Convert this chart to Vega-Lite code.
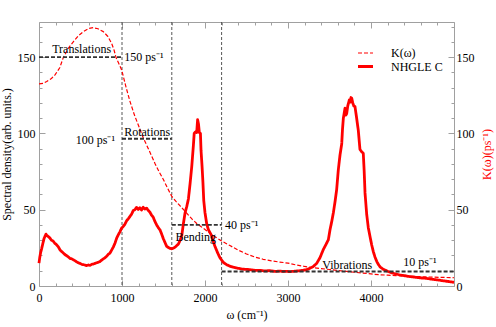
{
  "$schema": "https://vega.github.io/schema/vega-lite/v6.json",
  "width": 415,
  "height": 264,
  "autosize": "none",
  "padding": {"left": 39, "top": 22, "right": 42, "bottom": 41},
  "config": {
    "font": "Liberation Serif, Times New Roman, serif",
    "view": {"stroke": null},
    "axis": {
      "labelFont": "Liberation Serif, Times New Roman, serif", "titleFont": "Liberation Serif, Times New Roman, serif",
      "labelFontSize": 12, "titleFontSize": 12, "titleFontWeight": "normal",
      "labelColor": "#000", "titleColor": "#000",
      "domainColor": "#a0a0a0", "tickColor": "#a0a0a0", "domainWidth": 1, "tickWidth": 1,
      "grid": false, "labelFlush": false, "labelOverlap": false, "labelBound": false
    },
    "legend": {
      "labelFont": "Liberation Serif, Times New Roman, serif", "labelFontSize": 12, "labelColor": "#000"
    },
    "text": {"font": "Liberation Serif, Times New Roman, serif"}
  },
  "datasets": {
    "curves": [
      {"s":"NHGLE C","w":0,"v":15},{"s":"NHGLE C","w":10,"v":19},{"s":"NHGLE C","w":20,"v":22},{"s":"NHGLE C","w":32,"v":24.5},{"s":"NHGLE C","w":45,"v":27.5},{"s":"NHGLE C","w":60,"v":31},{"s":"NHGLE C","w":72,"v":32.5},{"s":"NHGLE C","w":84,"v":34},{"s":"NHGLE C","w":95,"v":33},{"s":"NHGLE C","w":110,"v":32.5},{"s":"NHGLE C","w":132,"v":31.4},{"s":"NHGLE C","w":150,"v":30},{"s":"NHGLE C","w":170,"v":29.5},{"s":"NHGLE C","w":190,"v":28},{"s":"NHGLE C","w":213,"v":27},{"s":"NHGLE C","w":235,"v":25.5},{"s":"NHGLE C","w":255,"v":23.5},{"s":"NHGLE C","w":275,"v":22.5},{"s":"NHGLE C","w":293,"v":21.6},{"s":"NHGLE C","w":315,"v":20.5},{"s":"NHGLE C","w":335,"v":19.8},{"s":"NHGLE C","w":355,"v":19},{"s":"NHGLE C","w":375,"v":18},{"s":"NHGLE C","w":395,"v":17.8},{"s":"NHGLE C","w":413,"v":17.2},{"s":"NHGLE C","w":435,"v":16.5},{"s":"NHGLE C","w":455,"v":15.8},{"s":"NHGLE C","w":475,"v":15.2},{"s":"NHGLE C","w":495,"v":14.8},{"s":"NHGLE C","w":515,"v":14.2},{"s":"NHGLE C","w":534,"v":14},{"s":"NHGLE C","w":555,"v":13.7},{"s":"NHGLE C","w":575,"v":13.4},{"s":"NHGLE C","w":595,"v":13.8},{"s":"NHGLE C","w":614,"v":13.5},{"s":"NHGLE C","w":635,"v":14.2},{"s":"NHGLE C","w":655,"v":14.4},{"s":"NHGLE C","w":675,"v":14.8},{"s":"NHGLE C","w":695,"v":15.2},{"s":"NHGLE C","w":715,"v":15.6},{"s":"NHGLE C","w":735,"v":16},{"s":"NHGLE C","w":755,"v":17},{"s":"NHGLE C","w":775,"v":17.8},{"s":"NHGLE C","w":795,"v":18.5},{"s":"NHGLE C","w":815,"v":19.5},{"s":"NHGLE C","w":835,"v":20.8},{"s":"NHGLE C","w":855,"v":21.6},{"s":"NHGLE C","w":875,"v":23.5},{"s":"NHGLE C","w":895,"v":25.5},{"s":"NHGLE C","w":915,"v":28},{"s":"NHGLE C","w":936,"v":31.4},{"s":"NHGLE C","w":955,"v":33.5},{"s":"NHGLE C","w":975,"v":35.5},{"s":"NHGLE C","w":996,"v":38},{"s":"NHGLE C","w":1015,"v":39},{"s":"NHGLE C","w":1035,"v":40.5},{"s":"NHGLE C","w":1056,"v":42.8},{"s":"NHGLE C","w":1075,"v":44},{"s":"NHGLE C","w":1096,"v":45.6},{"s":"NHGLE C","w":1115,"v":47},{"s":"NHGLE C","w":1136,"v":49.5},{"s":"NHGLE C","w":1155,"v":50},{"s":"NHGLE C","w":1175,"v":51.5},{"s":"NHGLE C","w":1195,"v":50.2},{"s":"NHGLE C","w":1215,"v":51.3},{"s":"NHGLE C","w":1235,"v":49.8},{"s":"NHGLE C","w":1255,"v":51.6},{"s":"NHGLE C","w":1275,"v":50.4},{"s":"NHGLE C","w":1297,"v":51},{"s":"NHGLE C","w":1315,"v":49.6},{"s":"NHGLE C","w":1335,"v":48.5},{"s":"NHGLE C","w":1355,"v":46.5},{"s":"NHGLE C","w":1377,"v":45},{"s":"NHGLE C","w":1395,"v":42.5},{"s":"NHGLE C","w":1418,"v":40},{"s":"NHGLE C","w":1440,"v":38},{"s":"NHGLE C","w":1458,"v":36.8},{"s":"NHGLE C","w":1478,"v":34},{"s":"NHGLE C","w":1498,"v":31},{"s":"NHGLE C","w":1518,"v":28.5},{"s":"NHGLE C","w":1538,"v":26},{"s":"NHGLE C","w":1560,"v":25.2},{"s":"NHGLE C","w":1580,"v":24.6},{"s":"NHGLE C","w":1600,"v":24.4},{"s":"NHGLE C","w":1620,"v":24.8},{"s":"NHGLE C","w":1640,"v":25.5},{"s":"NHGLE C","w":1660,"v":26.5},{"s":"NHGLE C","w":1680,"v":27.5},{"s":"NHGLE C","w":1700,"v":30},{"s":"NHGLE C","w":1720,"v":33},{"s":"NHGLE C","w":1740,"v":41},{"s":"NHGLE C","w":1760,"v":48},{"s":"NHGLE C","w":1780,"v":52},{"s":"NHGLE C","w":1800,"v":57},{"s":"NHGLE C","w":1820,"v":67},{"s":"NHGLE C","w":1840,"v":78},{"s":"NHGLE C","w":1860,"v":92},{"s":"NHGLE C","w":1870,"v":100},{"s":"NHGLE C","w":1885,"v":101},{"s":"NHGLE C","w":1900,"v":100.5},{"s":"NHGLE C","w":1911,"v":109},{"s":"NHGLE C","w":1922,"v":106},{"s":"NHGLE C","w":1932,"v":100.5},{"s":"NHGLE C","w":1945,"v":100},{"s":"NHGLE C","w":1952,"v":89},{"s":"NHGLE C","w":1965,"v":78},{"s":"NHGLE C","w":1975,"v":68},{"s":"NHGLE C","w":1985,"v":56},{"s":"NHGLE C","w":2000,"v":48},{"s":"NHGLE C","w":2020,"v":41},{"s":"NHGLE C","w":2040,"v":37},{"s":"NHGLE C","w":2060,"v":35},{"s":"NHGLE C","w":2080,"v":33},{"s":"NHGLE C","w":2100,"v":29},{"s":"NHGLE C","w":2120,"v":26},{"s":"NHGLE C","w":2150,"v":22},{"s":"NHGLE C","w":2180,"v":18.5},{"s":"NHGLE C","w":2220,"v":15.5},{"s":"NHGLE C","w":2260,"v":14},{"s":"NHGLE C","w":2300,"v":13},{"s":"NHGLE C","w":2340,"v":12.3},{"s":"NHGLE C","w":2380,"v":11.8},{"s":"NHGLE C","w":2420,"v":11.4},{"s":"NHGLE C","w":2460,"v":11},{"s":"NHGLE C","w":2500,"v":10.9},{"s":"NHGLE C","w":2540,"v":10.7},{"s":"NHGLE C","w":2580,"v":10.4},{"s":"NHGLE C","w":2620,"v":10.2},{"s":"NHGLE C","w":2660,"v":10.3},{"s":"NHGLE C","w":2700,"v":10},{"s":"NHGLE C","w":2740,"v":9.9},{"s":"NHGLE C","w":2780,"v":10.1},{"s":"NHGLE C","w":2820,"v":9.7},{"s":"NHGLE C","w":2860,"v":9.6},{"s":"NHGLE C","w":2900,"v":9.8},{"s":"NHGLE C","w":2940,"v":9.5},{"s":"NHGLE C","w":2980,"v":9.6},{"s":"NHGLE C","w":3024,"v":9.4},{"s":"NHGLE C","w":3060,"v":9.6},{"s":"NHGLE C","w":3100,"v":9.8},{"s":"NHGLE C","w":3140,"v":10},{"s":"NHGLE C","w":3180,"v":10.3},{"s":"NHGLE C","w":3225,"v":10.7},{"s":"NHGLE C","w":3265,"v":11.6},{"s":"NHGLE C","w":3305,"v":12.8},{"s":"NHGLE C","w":3345,"v":14.8},{"s":"NHGLE C","w":3385,"v":18.5},{"s":"NHGLE C","w":3425,"v":23.8},{"s":"NHGLE C","w":3460,"v":27.5},{"s":"NHGLE C","w":3486,"v":30.3},{"s":"NHGLE C","w":3506,"v":36.8},{"s":"NHGLE C","w":3526,"v":42},{"s":"NHGLE C","w":3546,"v":47.8},{"s":"NHGLE C","w":3566,"v":55},{"s":"NHGLE C","w":3586,"v":63},{"s":"NHGLE C","w":3606,"v":76},{"s":"NHGLE C","w":3627,"v":86},{"s":"NHGLE C","w":3647,"v":93},{"s":"NHGLE C","w":3657,"v":103},{"s":"NHGLE C","w":3667,"v":110},{"s":"NHGLE C","w":3687,"v":116.5},{"s":"NHGLE C","w":3697,"v":112},{"s":"NHGLE C","w":3707,"v":113},{"s":"NHGLE C","w":3720,"v":118},{"s":"NHGLE C","w":3739,"v":122},{"s":"NHGLE C","w":3750,"v":120.5},{"s":"NHGLE C","w":3759,"v":123.5},{"s":"NHGLE C","w":3768,"v":123},{"s":"NHGLE C","w":3780,"v":120},{"s":"NHGLE C","w":3793,"v":118},{"s":"NHGLE C","w":3807,"v":117.6},{"s":"NHGLE C","w":3827,"v":110},{"s":"NHGLE C","w":3847,"v":102},{"s":"NHGLE C","w":3867,"v":89.5},{"s":"NHGLE C","w":3887,"v":88},{"s":"NHGLE C","w":3907,"v":87},{"s":"NHGLE C","w":3918,"v":75},{"s":"NHGLE C","w":3928,"v":61},{"s":"NHGLE C","w":3948,"v":47},{"s":"NHGLE C","w":3968,"v":38},{"s":"NHGLE C","w":3988,"v":32.5},{"s":"NHGLE C","w":4008,"v":27},{"s":"NHGLE C","w":4028,"v":22.5},{"s":"NHGLE C","w":4048,"v":19},{"s":"NHGLE C","w":4070,"v":16},{"s":"NHGLE C","w":4090,"v":14},{"s":"NHGLE C","w":4110,"v":12.5},{"s":"NHGLE C","w":4149,"v":10.9},{"s":"NHGLE C","w":4200,"v":9.7},{"s":"NHGLE C","w":4250,"v":8.6},{"s":"NHGLE C","w":4300,"v":7.9},{"s":"NHGLE C","w":4349,"v":7.2},{"s":"NHGLE C","w":4400,"v":6.8},{"s":"NHGLE C","w":4450,"v":6.3},{"s":"NHGLE C","w":4500,"v":6},{"s":"NHGLE C","w":4550,"v":5.6},{"s":"NHGLE C","w":4600,"v":5.3},{"s":"NHGLE C","w":4670,"v":5},{"s":"NHGLE C","w":4730,"v":4.5},{"s":"NHGLE C","w":4800,"v":4},{"s":"NHGLE C","w":4870,"v":3.4},{"s":"NHGLE C","w":4940,"v":2.9},{"s":"NHGLE C","w":5000,"v":2.4},
      {"s":"K(ω)","w":0,"v":132.5},{"s":"K(ω)","w":50,"v":132.8},{"s":"K(ω)","w":93,"v":134},{"s":"K(ω)","w":150,"v":136},{"s":"K(ω)","w":193,"v":138.4},{"s":"K(ω)","w":250,"v":143},{"s":"K(ω)","w":293,"v":149.7},{"s":"K(ω)","w":350,"v":155.5},{"s":"K(ω)","w":413,"v":160},{"s":"K(ω)","w":475,"v":164},{"s":"K(ω)","w":534,"v":166.7},{"s":"K(ω)","w":600,"v":168.8},{"s":"K(ω)","w":654,"v":169.3},{"s":"K(ω)","w":710,"v":168.6},{"s":"K(ω)","w":775,"v":166.7},{"s":"K(ω)","w":830,"v":163.5},{"s":"K(ω)","w":875,"v":159},{"s":"K(ω)","w":905,"v":154.5},{"s":"K(ω)","w":928,"v":149.7},{"s":"K(ω)","w":960,"v":146},{"s":"K(ω)","w":996,"v":141.6},{"s":"K(ω)","w":1050,"v":130},{"s":"K(ω)","w":1096,"v":121},{"s":"K(ω)","w":1150,"v":112},{"s":"K(ω)","w":1200,"v":105},{"s":"K(ω)","w":1257,"v":97},{"s":"K(ω)","w":1300,"v":92},{"s":"K(ω)","w":1350,"v":86},{"s":"K(ω)","w":1400,"v":80},{"s":"K(ω)","w":1450,"v":74.5},{"s":"K(ω)","w":1500,"v":69.6},{"s":"K(ω)","w":1550,"v":64},{"s":"K(ω)","w":1600,"v":58.7},{"s":"K(ω)","w":1650,"v":55.5},{"s":"K(ω)","w":1700,"v":52.5},{"s":"K(ω)","w":1750,"v":49.5},{"s":"K(ω)","w":1800,"v":46.5},{"s":"K(ω)","w":1850,"v":43.5},{"s":"K(ω)","w":1900,"v":41},{"s":"K(ω)","w":1950,"v":39},{"s":"K(ω)","w":2000,"v":37},{"s":"K(ω)","w":2100,"v":33},{"s":"K(ω)","w":2200,"v":29.5},{"s":"K(ω)","w":2300,"v":26.5},{"s":"K(ω)","w":2400,"v":23.5},{"s":"K(ω)","w":2500,"v":21},{"s":"K(ω)","w":2600,"v":19},{"s":"K(ω)","w":2700,"v":17.5},{"s":"K(ω)","w":2800,"v":16.5},{"s":"K(ω)","w":2900,"v":15.7},{"s":"K(ω)","w":3000,"v":15},{"s":"K(ω)","w":3100,"v":13.8},{"s":"K(ω)","w":3200,"v":12.8},{"s":"K(ω)","w":3300,"v":12},{"s":"K(ω)","w":3400,"v":11.4},{"s":"K(ω)","w":3500,"v":10.8},{"s":"K(ω)","w":3600,"v":10.2},{"s":"K(ω)","w":3700,"v":9.6},{"s":"K(ω)","w":3800,"v":9},{"s":"K(ω)","w":3900,"v":8.5},{"s":"K(ω)","w":4000,"v":7.9},{"s":"K(ω)","w":4100,"v":7.4},{"s":"K(ω)","w":4200,"v":7.1},{"s":"K(ω)","w":4300,"v":6.8},{"s":"K(ω)","w":4400,"v":6.5},{"s":"K(ω)","w":4500,"v":6.3},{"s":"K(ω)","w":4600,"v":6.1},{"s":"K(ω)","w":4750,"v":5.8},{"s":"K(ω)","w":4900,"v":5.6},{"s":"K(ω)","w":5000,"v":5.4}
    ],
    "vlines": [{"w": 1000}, {"w": 1600}, {"w": 2200}],
    "segments": [
      {"w": 0, "w2": 1000, "v": 150},
      {"w": 1000, "w2": 1600, "v": 96.5},
      {"w": 1600, "w2": 2200, "v": 40},
      {"w": 2200, "w2": 5000, "v": 9.5}
    ],
    "labelsCenter": [
      {"w": 514, "v": 155.5, "t": "Translations"},
      {"w": 1303, "v": 101.2, "t": "Rotations"},
      {"w": 1889, "v": 32.1, "t": "Bending"},
      {"w": 3713, "v": 14, "t": "Vibrations"}
    ],
    "labelsLeft": [
      {"w": 1028, "v": 150, "t": "150 ps⁻¹"},
      {"w": 2241, "v": 40.1, "t": "40 ps⁻¹"},
      {"w": 4389, "v": 15.5, "t": "10 ps⁻¹"}
    ],
    "labelsRight": [
      {"w": 916, "v": 95.8, "t": "100 ps⁻¹"}
    ],
    "anchor": [{"w": 0, "v": 0}]
  },
  "layer": [
    {
      "layer": [
        {
          "data": {"name": "vlines"},
          "mark": {"type": "rule", "color": "#444444", "strokeWidth": 0.9, "strokeDash": [3, 2]},
          "encoding": {
            "x": {"field": "w", "type": "quantitative", "scale": {"domain": [0, 5000], "nice": false}, "axis": null}
          }
        },
        {
          "data": {"name": "curves"},
          "mark": {"type": "line", "strokeJoin": "round", "strokeCap": "butt"},
          "encoding": {
            "x": {"field": "w", "type": "quantitative", "axis": null},
            "y": {"field": "v", "type": "quantitative", "scale": {"domain": [0, 173], "nice": false}, "axis": null},
            "color": {"field": "s", "type": "nominal",
              "scale": {"domain": ["K(ω)", "NHGLE C"], "range": ["#ff0000", "#ff0000"]},
              "legend": {"orient": "none", "legendX": 320, "legendY": 25, "title": null, "symbolType": "M-1.5,0H1.5", "symbolSize": 100, "labelOffset": 19, "rowPadding": 1}
            },
            "strokeDash": {"field": "s", "type": "nominal",
              "scale": {"domain": ["K(ω)", "NHGLE C"], "range": [[4, 2], [1, 0]]}
            },
            "strokeWidth": {"field": "s", "type": "ordinal",
              "scale": {"domain": ["K(ω)", "NHGLE C"], "range": [1.2, 2.8]}
            }
          }
        },
        {
          "data": {"name": "segments"},
          "mark": {"type": "rule", "color": "#333333", "strokeWidth": 1.8, "strokeDash": [4, 2]},
          "encoding": {
            "x": {"field": "w", "type": "quantitative", "axis": null},
            "x2": {"field": "w2"},
            "y": {"field": "v", "type": "quantitative", "axis": null}
          }
        },
        {
          "data": {"name": "labelsCenter"},
          "mark": {"type": "text", "fontSize": 12, "color": "#000", "align": "center", "baseline": "middle"},
          "encoding": {
            "x": {"field": "w", "type": "quantitative", "axis": null},
            "y": {"field": "v", "type": "quantitative", "axis": null},
            "text": {"field": "t"}
          }
        },
        {
          "data": {"name": "labelsLeft"},
          "mark": {"type": "text", "fontSize": 12, "color": "#000", "align": "left", "baseline": "middle"},
          "encoding": {
            "x": {"field": "w", "type": "quantitative", "axis": null},
            "y": {"field": "v", "type": "quantitative", "axis": null},
            "text": {"field": "t"}
          }
        },
        {
          "data": {"name": "labelsRight"},
          "mark": {"type": "text", "fontSize": 12, "color": "#000", "align": "right", "baseline": "middle"},
          "encoding": {
            "x": {"field": "w", "type": "quantitative", "axis": null},
            "y": {"field": "v", "type": "quantitative", "axis": null},
            "text": {"field": "t"}
          }
        }
      ]
    },
    {
      "data": {"name": "anchor"},
      "mark": {"type": "point", "opacity": 0},
      "encoding": {
        "x": {"field": "w", "type": "quantitative", "scale": {"domain": [0, 5000], "nice": false},
          "axis": {
            "orient": "bottom", "title": "ω (cm⁻¹)", "titlePadding": 3,
            "values": [0,200,400,600,800,1000,1200,1400,1600,1800,2000,2200,2400,2600,2800,3000,3200,3400,3600,3800,4000,4200,4400,4600,4800,5000],
            "format": "d",
            "labelExpr": "datum.value % 1000 === 0 && datum.value < 5000 ? datum.label : ''",
            "tickSize": {"condition": {"test": "datum.value % 1000 === 0", "value": -6}, "value": -3},
            "labelPadding": 12, "labelOverlap": false
          }
        },
        "y": {"field": "v", "type": "quantitative", "scale": {"domain": [0, 173], "nice": false},
          "axis": {
            "orient": "left", "title": "Spectral density(arb. units.)", "titlePadding": 4,
            "values": [0,10,20,30,40,50,60,70,80,90,100,110,120,130,140,150,160,170],
            "labelExpr": "datum.value % 50 === 0 ? datum.label : ''",
            "tickSize": {"condition": {"test": "datum.value % 50 === 0", "value": -6}, "value": -3},
            "labelPadding": 10, "labelOverlap": false
          }
        }
      }
    },
    {
      "data": {"name": "anchor"},
      "mark": {"type": "point", "opacity": 0},
      "encoding": {
        "x": {"field": "w", "type": "quantitative", "scale": {"domain": [0, 5000], "nice": false},
          "axis": {
            "orient": "top", "title": null, "labels": false,
            "values": [0,200,400,600,800,1000,1200,1400,1600,1800,2000,2200,2400,2600,2800,3000,3200,3400,3600,3800,4000,4200,4400,4600,4800,5000],
            "tickSize": {"condition": {"test": "datum.value % 1000 === 0", "value": -6}, "value": -3}
          }
        },
        "y": {"field": "v", "type": "quantitative", "scale": {"domain": [0, 173], "nice": false},
          "axis": {
            "orient": "right", "title": "K(ω)(ps⁻¹)", "titleColor": "#ff0000", "titleAngle": 270, "titleBaseline": "top", "titlePadding": 7,
            "values": [0,10,20,30,40,50,60,70,80,90,100,110,120,130,140,150,160,170],
            "labelExpr": "datum.value % 50 === 0 ? datum.label : ''",
            "tickSize": {"condition": {"test": "datum.value % 50 === 0", "value": -6}, "value": -3},
            "labelPadding": 8, "labelOverlap": false
          }
        }
      }
    }
  ],
  "resolve": {"scale": {"x": "independent", "y": "independent"}}
}
